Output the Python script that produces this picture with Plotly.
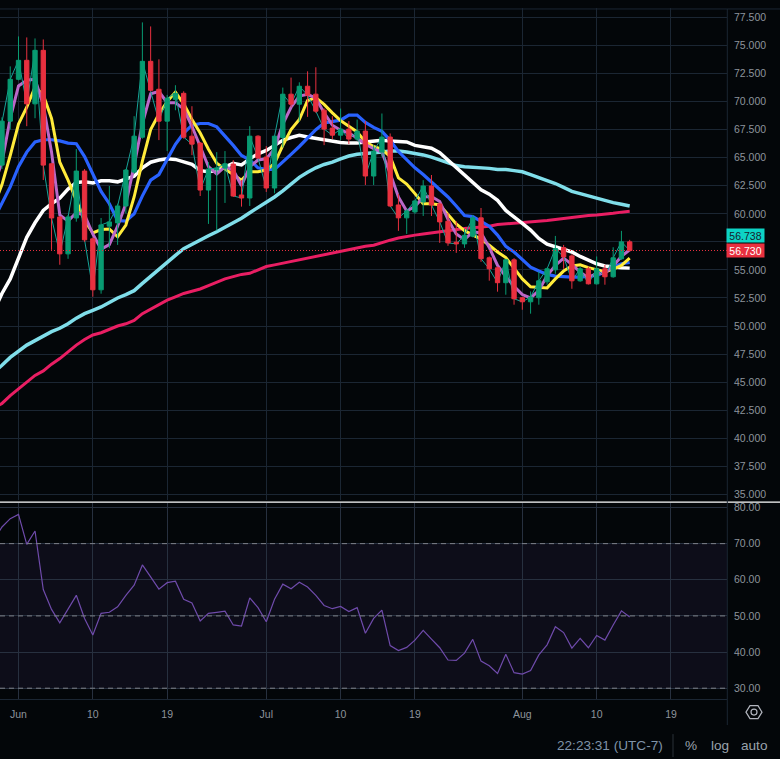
import pandas as pd
import plotly.graph_objects as go

W, H = 780, 759
START = "2023-05-29"
dates = pd.date_range(START, periods=78, freq="D")

opens = [60.0,64.34,68.26,71.99,73.68,69.8,74.57,64.46,59.72,56.43,59.63,63.81,57.77,53.23,58.9,59.19,60.7,63.72,66.83,73.59,71.1,68.26,70.2,70.74,66.92,66.3,62.12,63.9,64.08,64.43,61.68,61.41,66.92,65.06,62.3,66.8,70.66,69.77,71.37,70.66,69.24,67.64,67.01,67.55,66.66,67.37,63.37,65.5,66.84,60.79,59.64,60.17,61.06,62.48,60.88,59.34,57.47,57.32,58.0,59.64,56.08,55.19,53.86,55.9,52.52,52.16,52.52,53.94,55.01,56.99,56.25,54.03,55.1,53.76,55.1,54.39,55.99,57.5]
highs = [64.6,68.6,73.14,75.81,75.72,75.63,75.54,64.5,59.8,59.9,65.77,63.99,57.9,59.63,62.48,60.9,64.0,68.7,77.06,76.7,73.77,70.6,71.46,70.92,69.59,66.4,64.6,65.5,65.59,64.79,63.01,67.81,67.0,66.04,67.0,71.25,72.14,71.72,72.7,73.06,69.4,68.7,69.38,68.26,68.4,68.26,66.12,68.94,67.16,61.77,60.4,61.2,63.0,63.46,61.0,60.08,59.34,58.66,59.9,60.52,56.2,55.3,56.0,56.05,52.6,53.08,54.86,55.2,58.03,57.23,56.4,55.3,55.3,56.2,55.45,57.02,58.48,57.68]
lows = [59.8,64.0,67.51,71.9,67.81,68.52,63.01,56.79,55.46,55.99,59.3,57.5,52.61,52.88,56.94,57.23,60.05,63.6,66.7,70.9,66.57,65.59,69.23,66.7,65.23,61.59,59.1,58.51,60.97,61.5,60.64,60.7,64.9,61.95,61.83,65.92,69.5,68.2,68.64,69.0,66.12,66.66,66.57,66.21,66.5,62.57,62.57,65.09,60.6,58.48,58.21,60.0,59.81,59.81,57.41,57.15,56.52,56.97,57.9,55.72,54.04,53.06,52.79,51.9,51.45,51.1,51.9,53.68,54.65,55.1,53.32,53.94,53.7,53.7,53.68,54.3,55.9,56.64]
closes = [64.34,68.26,71.99,73.68,69.8,74.57,64.34,59.63,56.43,59.72,63.81,57.68,53.23,59.01,59.28,60.7,63.9,66.92,73.59,71.01,68.26,70.3,70.74,66.83,66.21,62.12,63.99,64.08,64.46,61.59,61.41,66.92,64.97,62.3,66.92,70.66,69.77,71.37,70.57,69.15,67.55,67.01,67.55,66.66,67.37,63.37,65.59,66.84,60.7,59.64,60.26,61.15,62.48,60.79,59.28,57.41,57.32,58.09,59.64,56.0,55.1,53.86,55.9,52.43,52.16,52.58,54.03,55.1,56.9,56.16,54.03,55.1,53.76,55.1,54.39,56.08,57.5,56.73]

ma_purple = [62.5,64.6,68.5,71.4,71.9,72.0,69.7,65.5,59.9,59.35,60.1,59.9,58.2,56.85,57.25,58.9,60.9,64.3,68.05,70.7,70.9,69.9,69.9,69.35,67.8,66.0,64.2,63.55,64.2,63.9,62.5,64.2,64.8,64.9,65.8,68.0,69.5,70.5,70.65,70.3,69.0,67.9,67.45,67.2,66.75,66.2,65.8,65.5,63.6,61.5,60.25,60.65,61.5,61.55,61.1,59.5,58.2,57.7,58.4,58.3,57.0,55.4,54.4,53.55,52.8,52.5,53.15,54.5,55.4,56.05,55.5,54.8,54.3,54.7,54.7,55.35,56.2,56.8]
ma_yellow = [60.7,62.6,65.2,68.0,69.5,71.3,70.6,68.5,64.6,63.0,61.2,59.4,58.3,58.6,58.65,57.95,59.0,61.5,64.7,67.5,68.9,70.0,70.85,69.8,68.4,67.2,65.75,64.5,64.0,63.5,63.0,63.75,63.75,63.9,64.5,66.1,67.5,68.4,70.1,70.35,69.75,69.0,68.3,67.8,67.3,66.4,66.0,65.75,65.1,63.2,62.65,61.8,60.9,60.9,60.8,59.95,59.1,58.5,58.1,57.75,57.2,56.6,56.1,55.2,54.2,53.5,53.45,53.4,54.2,54.9,55.35,55.45,55.2,55.0,54.85,55.05,55.4,56.05]
ma_blue = [59.5,60.9,62.4,64.2,65.5,66.4,66.6,66.6,66.5,66.3,66.25,65.1,63.5,62.0,60.9,59.4,59.35,60.0,61.6,63.0,63.5,64.9,66.2,67.2,67.9,68.05,68.05,67.75,66.95,66.1,65.2,64.8,64.1,63.95,63.95,64.6,65.3,66.0,66.75,67.5,68.1,68.2,68.35,68.8,68.8,68.15,67.7,67.35,66.55,65.55,64.8,64.1,63.5,62.85,62.15,61.5,60.7,59.85,59.75,59.35,58.9,58.1,57.1,56.6,55.9,55.25,54.9,54.6,54.45,54.38,54.35,54.35,54.4,54.5,54.8,55.25,55.55,55.66]
ma_white = [51.3,52.9,54.2,56.1,57.9,59.2,60.3,60.9,61.4,62.2,62.8,62.85,62.75,62.95,62.95,62.85,63.1,63.35,64.1,64.6,64.8,64.9,64.85,64.65,64.4,63.85,63.75,63.85,64.2,64.5,64.35,64.9,65.35,65.65,66.1,66.55,66.8,67.0,66.85,66.72,66.55,66.45,66.35,66.3,66.3,66.4,66.5,66.55,66.5,66.42,66.4,66.1,65.95,65.85,65.45,64.8,64.2,63.5,62.85,62.15,61.75,61.2,60.3,59.75,59.15,58.55,57.8,57.3,57.05,56.85,56.6,56.2,55.85,55.55,55.35,55.25,55.2,55.16]
ma_cyan = [45.9,46.5,47.2,47.8,48.3,48.7,49.1,49.5,49.8,50.2,50.7,51.1,51.4,51.7,52.1,52.5,52.8,53.15,53.8,54.45,55.1,55.75,56.3,56.9,57.3,57.7,58.05,58.4,58.8,59.15,59.6,60.1,60.55,61.0,61.5,62.05,62.7,63.25,63.7,64.1,64.4,64.6,64.9,65.15,65.3,65.35,65.45,65.5,65.6,65.6,65.5,65.4,65.25,65.05,64.8,64.5,64.3,64.2,64.15,64.15,64.05,63.95,63.95,63.85,63.75,63.5,63.25,63.0,62.7,62.35,62.0,61.8,61.6,61.35,61.15,61.0,60.85,60.7]
ma_pink = [42.7,43.1,43.8,44.4,45.0,45.6,46.0,46.6,47.1,47.7,48.3,48.8,49.2,49.4,49.7,50.0,50.2,50.5,51.1,51.5,51.9,52.3,52.6,52.9,53.1,53.3,53.6,53.9,54.2,54.4,54.6,54.7,55.0,55.3,55.45,55.6,55.75,55.9,56.05,56.2,56.4,56.55,56.7,56.85,57.0,57.1,57.2,57.45,57.65,57.85,58.0,58.1,58.2,58.3,58.45,58.55,58.6,58.7,58.75,58.8,58.9,59.05,59.1,59.15,59.2,59.25,59.3,59.4,59.5,59.6,59.7,59.75,59.85,59.9,59.95,60.05,60.15,60.22]
rsi = [71.0,74.6,76.9,78.1,69.8,73.5,57.3,51.8,48.1,51.8,55.7,49.3,44.7,50.7,51.0,52.5,55.7,58.5,64.1,60.8,57.4,59.2,59.6,54.6,53.6,48.6,50.7,51.0,51.3,47.5,47.2,55.0,52.3,48.4,54.6,58.8,57.5,59.3,58.0,55.7,52.9,52.0,52.6,51.2,52.3,45.2,49.3,51.6,41.8,40.4,41.3,43.3,46.0,43.6,41.2,37.8,37.7,39.7,43.5,37.5,36.2,34.1,39.4,34.3,33.9,34.9,39.2,42.0,47.0,45.4,41.1,43.8,41.2,44.6,43.3,47.5,51.4,49.7]

price_ticks = [35 + 2.5 * k for k in range(18)]
# the 57.500 label sits under the two price tags in the reference
price_labels = ["" if t == 57.5 else f"{t:.3f}" for t in price_ticks]
rsi_ticks = [30, 40, 50, 60, 70, 80]
rsi_levels = [30, 50, 70]
tick_dates = ["2023-06-01", "2023-06-10", "2023-06-19", "2023-07-01", "2023-07-10", "2023-07-19", "2023-08-01", "2023-08-10", "2023-08-19"]
tick_names = ["Jun", "10", "19", "Jul", "10", "19", "Aug", "10", "19"]
last_price = 56.73
upper_tag_price = 58.03

BG = "#030609"
GRID = "#1b2633"
GRID2 = "#27303f"
TXT = "#8d949c"
FONT = "Liberation Sans"

def px(x):
    return x / W
def py(y):
    return 1 - y / H

x_range = ["2023-05-29 18:15", "2023-08-25 18:45"]
p_range = [34.478, 78.3]
r_range = [26.97, 81.19]

fig = go.Figure()
lines = [
    (ma_pink, "#e91e63", 3.0, 1),
    (ma_cyan, "#80deea", 3.5, 1),
    (ma_white, "#ffffff", 3.5, 1),
    (ma_blue, "#2962ff", 3.2, 1),
    (ma_yellow, "#ffeb3b", 3.0, 1),
    (ma_purple, "#ba68c8", 3.0, 1),
    (closes, "#17a398", 1, 1),
]
for vals, col, w, op in lines:
    fig.add_trace(go.Scatter(x=dates, y=vals, mode="lines", line=dict(color=col, width=w),
                             opacity=op, xaxis="x", yaxis="y", showlegend=False, hoverinfo="skip"))
fig.add_trace(go.Candlestick(x=dates, open=opens, high=highs, low=lows, close=closes, xaxis="x", yaxis="y3",
                             increasing=dict(line=dict(color="#089b72", width=1), fillcolor="#089b72"),
                             decreasing=dict(line=dict(color="#e8303f", width=1), fillcolor="#e8303f"),
                             whiskerwidth=0, showlegend=False))
fig.add_trace(go.Scatter(x=dates, y=rsi, mode="lines", line=dict(color="#6f4bab", width=1.2),
                         xaxis="x2", yaxis="y2", showlegend=False, hoverinfo="skip"))

axis_font = dict(family=FONT, size=10.5, color=TXT)
common_x = dict(type="date", range=x_range, domain=[0, px(727)], tickvals=tick_dates, ticktext=tick_names,
                showgrid=True, zeroline=False, ticks="")
PRICE_DOMAIN = [py(499.5), py(6.5)]
fig.update_layout(
    width=W, height=H, margin=dict(l=0, r=0, t=0, b=0), autosize=False,
    paper_bgcolor=BG, plot_bgcolor=BG, boxgap=0.25, showlegend=False, hovermode=False,
    xaxis=dict(**common_x, anchor="y", gridcolor=GRID, showticklabels=False, rangeslider=dict(visible=False)),
    xaxis2=dict(**common_x, anchor="y2", gridcolor=GRID2, showticklabels=True, tickfont=axis_font,
                ticklabelstandoff=5, showline=True, linecolor=GRID, linewidth=1),
    yaxis=dict(domain=PRICE_DOMAIN, range=p_range, side="right", anchor="x", tickvals=price_ticks,
               ticktext=price_labels, tickfont=axis_font, gridcolor=GRID, zeroline=False, ticklabelstandoff=6),
    yaxis3=dict(domain=PRICE_DOMAIN, range=p_range, side="right", anchor="x", overlaying="y",
                showticklabels=False, showgrid=False, zeroline=False),
    yaxis2=dict(domain=[py(699), py(502.5)], range=r_range, side="right", anchor="x2", tickvals=rsi_ticks,
                tickformat=".2f", tickfont=axis_font, gridcolor=GRID2, zeroline=False, ticklabelstandoff=6),
)

fig.add_shape(type="rect", xref="x2 domain", yref="y2", x0=0, x1=1, y0=min(rsi_levels), y1=max(rsi_levels),
              fillcolor="rgba(126,87,194,0.085)", line_width=0, layer="below")
for lv in rsi_levels:
    fig.add_shape(type="line", xref="x2 domain", yref="y2", x0=0, x1=1, y0=lv, y1=lv,
                  line=dict(color="#7d8088", width=1, dash="5px,4px"), layer="above")
fig.add_shape(type="line", xref="x domain", yref="y", x0=0, x1=1, y0=last_price, y1=last_price,
              line=dict(color="#e8303f", width=1, dash="1px,2px"))
fig.add_shape(type="line", xref="paper", yref="paper", x0=0, x1=1, y0=py(501.5), y1=py(501.5),
              line=dict(color="#ffffff", width=1.3))
fig.add_shape(type="line", xref="paper", yref="paper", x0=0, x1=1, y0=py(7), y1=py(7),
              line=dict(color=GRID, width=1))
fig.add_shape(type="line", xref="paper", yref="paper", x0=px(727.3), x1=px(727.3), y0=py(7), y1=py(725),
              line=dict(color=GRID, width=1))
fig.add_shape(type="line", xref="paper", yref="paper", x0=px(673), x1=px(673), y0=py(734), y1=py(757),
              line=dict(color="#2a3038", width=1))
cx, cy = 754, 712
hexa = [(-8, 0), (-4, -6.5), (4, -6.5), (8, 0), (4, 6.5), (-4, 6.5)]
path = "M " + " L ".join(f"{px(cx + a):.5f} {py(cy + b):.5f}" for a, b in hexa) + " Z"
fig.add_shape(type="path", xref="paper", yref="paper", path=path, line=dict(color="#b2b5be", width=1.2))
fig.add_shape(type="circle", xref="paper", yref="paper", x0=px(cx - 3), x1=px(cx + 3), y0=py(cy + 3), y1=py(cy - 3),
              line=dict(color="#b2b5be", width=1.2))

def tag(text, price, bg, fg):
    fig.add_annotation(text=text, xref="paper", yref="y", x=px(726), y=price, xanchor="left", yanchor="middle",
                       showarrow=False, bgcolor=bg, width=37, height=13, align="center", borderpad=0,
                       font=dict(family=FONT, size=10.5, color=fg))
tag("56.738", upper_tag_price, "#0dd3c5", "#17212b")
tag("56.730", last_price, "#e8303f", "#ffffff")

def note(text, x, y, size, color):
    fig.add_annotation(text=text, xref="paper", yref="paper", x=px(x), y=py(y), xanchor="left", yanchor="middle",
                       showarrow=False, font=dict(family=FONT, size=size, color=color))
note("22:23:31 (UTC-7)", 555, 745.5, 13.6, "#7f93a8")
note("%", 683, 745.5, 13.6, "#9aa3ad")
note("log", 709, 745.5, 13.6, "#9aa3ad")
note("auto", 739, 745.5, 13.6, "#9aa3ad")

fig.write_html("out.html", config=dict(displayModeBar=False),
               post_script="document.body.style.margin='0';document.body.style.background='#030609';")
